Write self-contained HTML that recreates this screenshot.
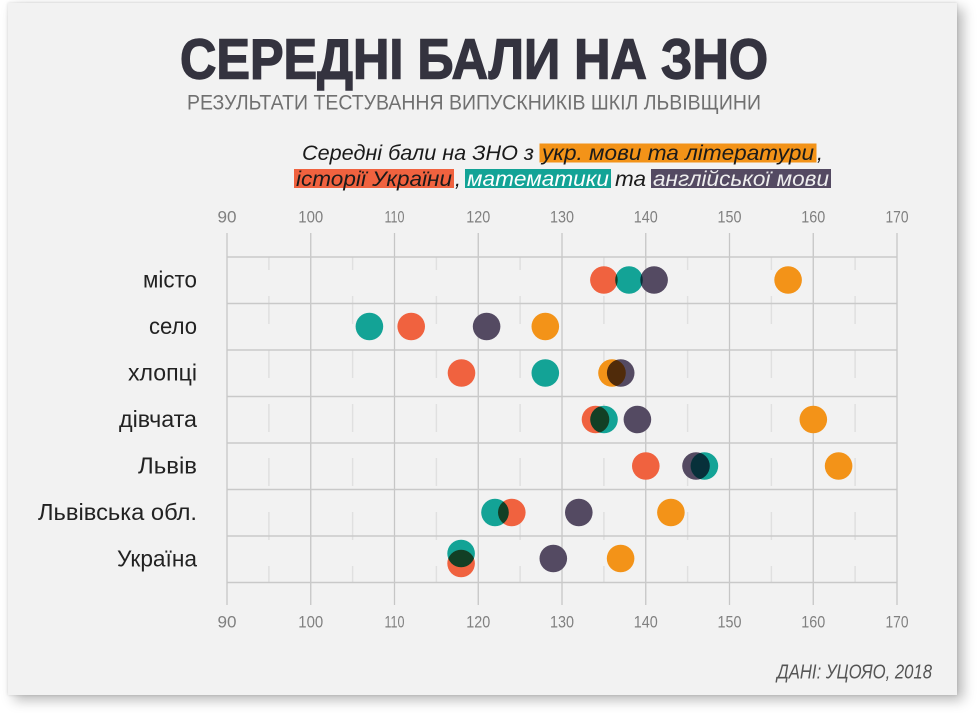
<!DOCTYPE html>
<html>
<head>
<meta charset="utf-8">
<style>
  html,body{margin:0;padding:0;background:#ffffff;}
  body{width:980px;height:713px;position:relative;overflow:hidden;}
  .card{position:absolute;left:8px;top:3px;width:949px;height:692px;background:#f2f2f2;
        box-shadow:6px 5px 12px rgba(0,0,0,0.28),0 0 3px rgba(0,0,0,0.14);}
  svg{position:absolute;left:0;top:0;}
  .dots circle{mix-blend-mode:multiply;}
</style>
</head>
<body>
<div class="card"></div>
<svg width="980" height="713" viewBox="0 0 980 713" xmlns="http://www.w3.org/2000/svg">
  <!-- Title -->
  <text x="180" y="78.5" font-family="'Liberation Sans', sans-serif" font-weight="bold" font-size="57" fill="#34333f" stroke="#34333f" stroke-width="1.4" textLength="588" lengthAdjust="spacingAndGlyphs">СЕРЕДНІ БАЛИ НА ЗНО</text>
  <text x="187" y="109.3" font-family="'Liberation Sans', sans-serif" font-size="21.5" fill="#707070" textLength="574" lengthAdjust="spacingAndGlyphs">РЕЗУЛЬТАТИ ТЕСТУВАННЯ ВИПУСКНИКІВ ШКІЛ ЛЬВІВЩИНИ</text>

  <!-- Legend sentence -->
  <g font-family="'Liberation Sans', sans-serif" font-style="italic" font-size="21">
    <text x="302" y="160" fill="#1a1a1a" textLength="232" lengthAdjust="spacingAndGlyphs">Середні бали на ЗНО з</text>
    <rect x="539.5" y="143.5" width="277" height="19" fill="#f39318"/>
    <text x="542" y="160" fill="#1a1a1a" textLength="272" lengthAdjust="spacingAndGlyphs">укр. мови та літератури</text>
    <text x="817" y="160" fill="#111">,</text>

    <rect x="294" y="169" width="160" height="19" fill="#f0623f"/>
    <text x="296" y="186" fill="#1a1a1a" textLength="156" lengthAdjust="spacingAndGlyphs">історії України</text>
    <text x="455" y="186" fill="#111">,</text>
    <rect x="465" y="169" width="146" height="19" fill="#13a396"/>
    <text x="467" y="186" fill="#ffffff" textLength="142" lengthAdjust="spacingAndGlyphs">математики</text>
    <text x="615" y="186" fill="#1a1a1a" textLength="31" lengthAdjust="spacingAndGlyphs">та</text>
    <rect x="651" y="169" width="180" height="19" fill="#544a62"/>
    <text x="653" y="186" fill="#eeeeee" textLength="176" lengthAdjust="spacingAndGlyphs">англійської мови</text>
  </g>

  <!-- Minor vertical dashed lines -->
  <defs>
    <clipPath id="plotclip"><rect x="200" y="257" width="720" height="325.5"/></clipPath>
  </defs>
  <g clip-path="url(#plotclip)" stroke="#e0e0e0" stroke-width="1.5" stroke-dasharray="28 26">
    <line x1="268.9" y1="242" x2="268.9" y2="600"/>
    <line x1="352.6" y1="242" x2="352.6" y2="600"/>
    <line x1="436.4" y1="242" x2="436.4" y2="600"/>
    <line x1="520.1" y1="242" x2="520.1" y2="600"/>
    <line x1="603.9" y1="242" x2="603.9" y2="600"/>
    <line x1="687.6" y1="242" x2="687.6" y2="600"/>
    <line x1="771.4" y1="242" x2="771.4" y2="600"/>
    <line x1="855.1" y1="242" x2="855.1" y2="600"/>
  </g>

  <!-- Major vertical lines -->
  <g stroke="#c6c6c6" stroke-width="1.3">
    <line x1="227" y1="233" x2="227" y2="605"/>
    <line x1="310.75" y1="233" x2="310.75" y2="605"/>
    <line x1="394.5" y1="233" x2="394.5" y2="605"/>
    <line x1="478.25" y1="233" x2="478.25" y2="605"/>
    <line x1="562" y1="233" x2="562" y2="605"/>
    <line x1="645.75" y1="233" x2="645.75" y2="605"/>
    <line x1="729.5" y1="233" x2="729.5" y2="605"/>
    <line x1="813.25" y1="233" x2="813.25" y2="605"/>
    <line x1="897" y1="233" x2="897" y2="605"/>
  </g>

  <!-- Horizontal lines -->
  <g stroke="#c9c9c9" stroke-width="1.5">
    <line x1="227" y1="257" x2="897" y2="257"/>
    <line x1="227" y1="303.5" x2="897" y2="303.5"/>
    <line x1="227" y1="350" x2="897" y2="350"/>
    <line x1="227" y1="396.5" x2="897" y2="396.5"/>
    <line x1="227" y1="443" x2="897" y2="443"/>
    <line x1="227" y1="489.5" x2="897" y2="489.5"/>
    <line x1="227" y1="536" x2="897" y2="536"/>
    <line x1="227" y1="582.5" x2="897" y2="582.5"/>
  </g>

  <!-- Tick labels -->
  <g font-family="'Liberation Sans', sans-serif" font-size="17" fill="#808080" text-anchor="middle">
    <text x="227" y="222.5" textLength="19" lengthAdjust="spacingAndGlyphs">90</text>
    <text x="310.75" y="222.5" textLength="25" lengthAdjust="spacingAndGlyphs">100</text>
    <text x="394.5" y="222.5" textLength="20" lengthAdjust="spacingAndGlyphs">110</text>
    <text x="478.25" y="222.5" textLength="24" lengthAdjust="spacingAndGlyphs">120</text>
    <text x="562" y="222.5" textLength="24" lengthAdjust="spacingAndGlyphs">130</text>
    <text x="645.75" y="222.5" textLength="24" lengthAdjust="spacingAndGlyphs">140</text>
    <text x="729.5" y="222.5" textLength="24" lengthAdjust="spacingAndGlyphs">150</text>
    <text x="813.25" y="222.5" textLength="24" lengthAdjust="spacingAndGlyphs">160</text>
    <text x="897" y="222.5" textLength="23" lengthAdjust="spacingAndGlyphs">170</text>

    <text x="227" y="627.7" textLength="19" lengthAdjust="spacingAndGlyphs">90</text>
    <text x="310.75" y="627.7" textLength="25" lengthAdjust="spacingAndGlyphs">100</text>
    <text x="394.5" y="627.7" textLength="20" lengthAdjust="spacingAndGlyphs">110</text>
    <text x="478.25" y="627.7" textLength="24" lengthAdjust="spacingAndGlyphs">120</text>
    <text x="562" y="627.7" textLength="24" lengthAdjust="spacingAndGlyphs">130</text>
    <text x="645.75" y="627.7" textLength="24" lengthAdjust="spacingAndGlyphs">140</text>
    <text x="729.5" y="627.7" textLength="24" lengthAdjust="spacingAndGlyphs">150</text>
    <text x="813.25" y="627.7" textLength="24" lengthAdjust="spacingAndGlyphs">160</text>
    <text x="897" y="627.7" textLength="23" lengthAdjust="spacingAndGlyphs">170</text>
  </g>

  <!-- Row labels -->
  <g font-family="'Liberation Sans', sans-serif" font-size="23" fill="#222" text-anchor="end">
    <text x="197" y="287.5" textLength="54" lengthAdjust="spacingAndGlyphs">місто</text>
    <text x="197" y="334" textLength="48" lengthAdjust="spacingAndGlyphs">село</text>
    <text x="197" y="380.5" textLength="69" lengthAdjust="spacingAndGlyphs">хлопці</text>
    <text x="197" y="427" textLength="78" lengthAdjust="spacingAndGlyphs">дівчата</text>
    <text x="197" y="473.5" textLength="59" lengthAdjust="spacingAndGlyphs">Львів</text>
    <text x="197" y="520" textLength="159" lengthAdjust="spacingAndGlyphs">Львівська обл.</text>
    <text x="197" y="566.5" textLength="80" lengthAdjust="spacingAndGlyphs">Україна</text>
  </g>

  <!-- Dots -->
  <g class="dots" style="isolation:isolate">
    <circle cx="603.9" cy="280" r="13.8" fill="#f0623f"/>
    <circle cx="629" cy="280" r="13.8" fill="#13a396"/>
    <circle cx="654.1" cy="280" r="13.8" fill="#544a62"/>
    <circle cx="788.1" cy="280" r="13.8" fill="#f39318"/>

    <circle cx="369.4" cy="326.5" r="13.8" fill="#13a396"/>
    <circle cx="411.2" cy="326.5" r="13.8" fill="#f0623f"/>
    <circle cx="486.6" cy="326.5" r="13.8" fill="#544a62"/>
    <circle cx="545.3" cy="326.5" r="13.8" fill="#f39318"/>

    <circle cx="461.5" cy="373" r="13.8" fill="#f0623f"/>
    <circle cx="545.3" cy="373" r="13.8" fill="#13a396"/>
    <circle cx="612" cy="373" r="13.8" fill="#f39318"/>
    <circle cx="620.7" cy="373" r="13.8" fill="#544a62"/>

    <circle cx="595.5" cy="419.5" r="13.8" fill="#f0623f"/>
    <circle cx="604" cy="419.5" r="13.8" fill="#13a396"/>
    <circle cx="637.4" cy="419.5" r="13.8" fill="#544a62"/>
    <circle cx="813.3" cy="419.5" r="13.8" fill="#f39318"/>

    <circle cx="645.8" cy="466" r="13.8" fill="#f0623f"/>
    <circle cx="696" cy="466" r="13.8" fill="#544a62"/>
    <circle cx="704.4" cy="466" r="13.8" fill="#13a396"/>
    <circle cx="838.6" cy="466" r="13.8" fill="#f39318"/>

    <circle cx="495" cy="512.5" r="13.8" fill="#13a396"/>
    <circle cx="511.8" cy="512.5" r="13.8" fill="#f0623f"/>
    <circle cx="578.8" cy="512.5" r="13.8" fill="#544a62"/>
    <circle cx="670.9" cy="512.5" r="13.8" fill="#f39318"/>

    <circle cx="461.1" cy="553.5" r="13.8" fill="#13a396"/>
    <circle cx="461.1" cy="563.5" r="13.8" fill="#f0623f"/>
    <circle cx="553.3" cy="558.5" r="13.8" fill="#544a62"/>
    <circle cx="620.6" cy="558.5" r="13.8" fill="#f39318"/>
  </g>

  <!-- Source -->
  <text x="777" y="678.5" font-family="'Liberation Sans', sans-serif" font-style="italic" font-size="20" fill="#555" textLength="155" lengthAdjust="spacingAndGlyphs">ДАНІ: УЦОЯО, 2018</text>
</svg>
</body>
</html>
